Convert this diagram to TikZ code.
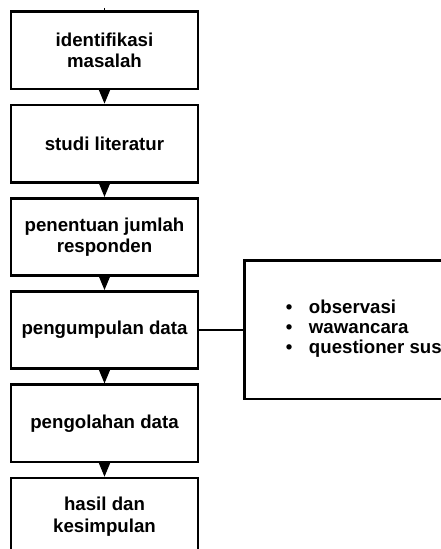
\documentclass[tikz,border=0pt]{standalone}
\usepackage{fontspec}
\setmainfont{Liberation Sans}
\usetikzlibrary{arrows.meta}
\begin{document}
\begin{tikzpicture}[x=0.75pt,y=-0.75pt,
  stepbox/.style={draw=black,line width=2pt,fill=white,minimum width=140.25pt,minimum height=58pt,inner sep=0pt,align=center,font=\fontsize{14}{16}\selectfont\bfseries},
  flow/.style={line width=0.8pt,-{Triangle[length=10.5pt,width=8.5pt]}},
  link/.style={line width=2pt}]
\useasboundingbox (0,0) rectangle (441,549);
\clip (0,0) rectangle (441,549);
\node[stepbox] (b1) at (104.5,50.3) {identifikasi\\masalah};
\node[stepbox] (b2) at (104.5,143.6) {studi literatur};
\node[stepbox] (b3) at (104.5,236.9) {penentuan jumlah\\responden};
\node[stepbox] (b4) at (104.5,330) {pengumpulan data};
\node[stepbox] (b5) at (104.5,423.4) {pengolahan data};
\node[stepbox] (b6) at (104.5,516.7) {hasil dan\\kesimpulan};
\node[draw=black,line width=2pt,minimum width=180pt,minimum height=104pt,inner sep=0pt,anchor=north west] (side) at (243,259) {};
\node[anchor=west,inner sep=0pt,font=\fontsize{14}{15}\selectfont\bfseries] (list) at (285.5,329)
  {\begin{tabular}{@{}l@{\hspace{12.5pt}}l@{}}
   \textbullet & observasi\\
   \textbullet & wawancara\\
   \textbullet & questioner sus
   \end{tabular}};
\coordinate (top) at (104.5,8);
\draw[line width=0.8pt] (top) -- (b1.north);
\draw[flow] (b1.south) -- (b2.north);
\draw[flow] (b2.south) -- (b3.north);
\draw[flow] (b3.south) -- (b4.north);
\draw[flow] (b4.south) -- (b5.north);
\draw[flow] (b5.south) -- (b6.north);
\draw[link] (b4.east) -- (side.west |- b4.east);
\end{tikzpicture}
\end{document}
